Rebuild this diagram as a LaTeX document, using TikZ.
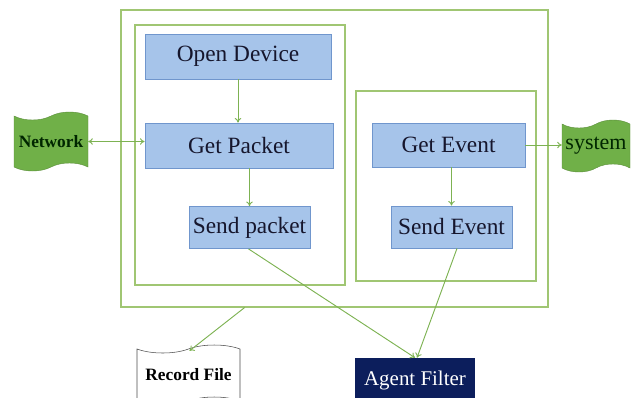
\documentclass[tikz,border=0pt]{standalone}
\usepackage{fontspec}
\setmainfont{Liberation Serif}
\usetikzlibrary{arrows.meta,shapes.symbols,calc}
\definecolor{boxfill}{RGB}{166,196,234}
\definecolor{boxline}{RGB}{112,150,205}
\definecolor{linkgreen}{RGB}{125,178,82}
\definecolor{framegreen}{RGB}{160,198,115}
\definecolor{flaggreen}{RGB}{112,176,72}
\definecolor{navy}{RGB}{12,30,92}
\definecolor{boxtext}{RGB}{22,22,45}
\tikzset{
  pbox/.style={draw=boxline, fill=boxfill, line width=0.6pt, inner sep=0pt,
    text=boxtext, font=\fontsize{17.5}{20}\selectfont},
  frame/.style={draw=framegreen, line width=0.8pt, inner sep=0pt},
  flag/.style={tape, draw=flaggreen!80!black, fill=flaggreen, line width=0.3pt,
    inner sep=0pt, tape bend height=6pt, text=black!85!green},
  link/.style={draw=linkgreen, line width=0.7pt, -{To[length=3.5pt,width=5pt]}},
}
\begin{document}
\begin{tikzpicture}[x=0.75pt,y=-0.75pt]
\useasboundingbox (0,0) rectangle (638,397);

% containers
\node[frame, minimum width=320.25pt, minimum height=222.75pt] (outer) at (334.5,158.5) {};
\node[frame, minimum width=157.5pt, minimum height=195pt] (capture) at (240,155) {};
\node[frame, minimum width=135pt, minimum height=142.5pt] (events) at (446,186) {};

% processing steps
\node[pbox, minimum width=139.5pt, minimum height=33.75pt] (open) at (238,56.5) {Open Device};
\node[pbox, minimum width=141pt, minimum height=33.75pt] (gp) at (239,145.5) {Get Packet};
\node[pbox, minimum width=90.75pt, minimum height=31.5pt] (sp) at (249.5,227.5) {Send packet};
\node[pbox, minimum width=114.75pt, minimum height=33pt] (ge) at (448.5,145) {Get Event};
\node[pbox, minimum width=90.75pt, minimum height=31.5pt] (se) at (451.5,227) {Send Event};

% external parties
\node[flag, minimum width=55.5pt, minimum height=44.25pt,
  font=\bfseries\fontsize{13}{15}\selectfont] (net) at (51,141.5) {Network};
\node[flag, minimum width=51pt, minimum height=39pt,
  font=\fontsize{16.5}{18}\selectfont] (sys) at (596,146) {system};
\node[tape, draw=black!70, fill=white, line width=0.4pt, inner sep=0pt,
  tape bend height=6pt, minimum width=77.25pt, minimum height=45pt,
  font=\bfseries\fontsize{13}{15}\selectfont] (rec) at (188.5,375) {Record File};
\node[fill=navy, text=white, inner sep=0pt, minimum width=90pt, minimum height=33pt,
  font=\fontsize{15.7}{18}\selectfont] (af) at (415,380) {Agent Filter};

% connectors
\draw[link, {To[length=3.5pt,width=5pt]}-{To[length=3.5pt,width=5pt]}]
  (net.east) -- (net.east -| gp.west);
\draw[link] (ge.east) -- (ge.east -| sys.west);
\draw[link] (open.south) -- (gp.north -| open.south);
\draw[link] (sp.north |- gp.south) -- (sp.north);
\draw[link] (se.north |- ge.south) -- (se.north);
\draw[link] ($(sp.south)+(-1,0)$) -- (af.north);
\draw[link] ($(se.south)+(5.5,0)$) -- ($(af.north)+(2,0)$);
\draw[link] ($(outer.south west)!0.29!(outer.south east)$) -- ($(rec.north)+(1,2)$);
\end{tikzpicture}
\end{document}
